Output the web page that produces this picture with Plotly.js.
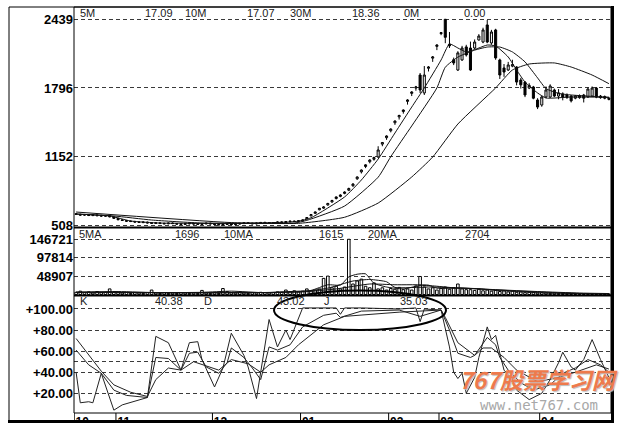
<!DOCTYPE html>
<html><head><meta charset="utf-8">
<script src="https://cdn.plot.ly/plotly-3.0.1.min.js"></script>
<style>html,body{margin:0;padding:0;background:#fff;}#chart{width:620px;height:428px;}</style>
</head><body><div id="chart"></div>
<script>
// ---------- DATA ----------
const bars = Array.from({length:128}, (_, i) => i);   // trading-day index
const monthTicks = [-0.45, 9.5, 32.5, 53.5, 74.5, 86.5, 110.5];
const monthLabels = ['10','11','12','01','02','03','04'];

const open = [618,612,604,610,601,606,602,594,598,588,
574,561,554,549,546,541,535,539,533,527,
532,528,524,531,526,522,518,523,528,523,
518,523,529,523,519,513,518,523,516,521,
526,533,529,523,530,537,534,528,533,541,
536,543,549,545,550,570,598,622,655,670,
700,728,760,780,808,838,880,945,1010,1060,
1105,1128,1150,1270,1330,1395,1470,1525,1575,1670,
1745,1795,1917,1749,1980,2075,2185,2305,2439,2205,
2060,1964,2058,2180,2170,2170,2245,2226,2386,2217,
2339,2058,1983,1964,2000,1992,1870,1851,1795,1805,
1683,1636,1711,1711,1777,1720,1740,1730,1720,1700,
1705,1730,1711,1720,1795,1720,1715,1700];
const close = [612,605,610,602,608,600,596,600,590,575,
562,555,548,545,540,536,540,532,528,532,
527,524,530,526,521,518,524,528,522,519,
524,529,523,518,514,519,523,517,521,527,
532,528,524,530,536,533,528,534,540,537,
544,548,545,552,559,582,610,634,669,681,
714,742,775,793,821,854,896,962,1027,1076,
1121,1144,1215,1285,1346,1411,1486,1538,1589,1683,
1758,1805,1777,1917,1992,2086,2198,2313,2270,2190,
2030,2124,2170,2105,1964,2226,2282,2339,2226,2320,
2077,1917,1945,2011,2015,1851,1825,1730,1820,1700,
1617,1711,1777,1814,1720,1750,1711,1705,1675,1720,
1725,1700,1786,1795,1711,1705,1700,1690];
const high = [624,618,616,615,614,612,608,606,604,594,
580,566,560,555,551,546,545,544,538,537,
537,533,535,536,531,527,529,533,533,528,
529,534,534,528,524,524,528,528,526,532,
537,538,534,535,541,542,539,539,545,546,
549,553,554,557,562,586,614,638,672,688,
720,748,780,800,828,862,904,968,1033,1082,
1128,1152,1250,1290,1352,1418,1492,1545,1595,1690,
1765,1815,1936,2001,2000,2095,2205,2320,2439,2320,
2080,2140,2190,2200,2230,2250,2300,2360,2432,2340,
2350,2070,2020,2040,2060,2000,1890,1860,1840,1815,
1700,1725,1810,1830,1790,1785,1755,1745,1730,1730,
1735,1740,1800,1810,1805,1730,1725,1712];
const low = [606,600,598,596,595,594,590,589,584,570,
556,550,543,540,535,531,530,527,522,522,
521,519,519,521,516,513,513,518,517,514,
513,518,517,512,508,510,513,512,511,516,
521,523,519,518,525,528,523,523,528,532,
531,538,540,540,546,566,594,616,650,664,
694,722,752,772,800,830,870,935,995,1045,
1090,1115,1140,1250,1310,1380,1450,1500,1555,1640,
1720,1770,1749,1730,1950,2040,2150,2290,2215,2170,
2010,1955,2050,2090,1955,2160,2240,2215,2215,2200,
2060,1880,1900,1955,1990,1820,1790,1710,1785,1690,
1598,1620,1700,1700,1710,1690,1680,1695,1660,1690,
1695,1660,1705,1715,1700,1695,1690,1680];

// price moving averages
const ma5X = [0,8,13,20,37,51,53,56,64,68,72,76,80,83,87,89,91,93,96,98,100,103,105,107,110,112,118,127];
const ma5Y = [615,597,550,531,528,540,548,580,775,934,1130,1374,1617,1796,2058,2208,2170,2133,2170,2198,2189,2086,1964,1851,1749,1702,1711,1709];
const ma10X = [0,9,18,30,52,55,64,72,75,80,86,88,91,95,98,101,104,107,110,112,115,118,127];
const ma10Y = [615,597,559,531,531,556,690,960,1152,1440,1796,1990,2085,2150,2179,2179,2133,2040,1890,1790,1745,1730,1707];
const ma30X = [0,37,53,64,72,80,85,91,100,104,108,114,118,123,127];
const ma30Y = [634,535,528,585,718,962,1149,1458,1796,1964,2020,2030,1992,1917,1836];

// volume
const volume = [6000,9000,5000,7000,4000,8000,5000,6000,15000,7000,
5000,4000,6000,3000,5000,4000,3000,5000,12000,4000,
3000,5000,3000,4000,3000,5000,4000,3000,4000,3000,
11000,4000,3000,5000,3000,16000,8000,5000,4000,6000,
4000,3000,5000,4000,6000,5000,4000,5000,7000,6000,
12000,8000,10000,7000,9000,15000,10000,12000,15000,43000,
49000,18000,22000,15000,20000,146721,28000,36000,41000,22000,
18000,31000,15000,18000,12000,16000,14000,19000,13000,15000,
12000,23000,48000,20000,15000,18000,12000,16000,20000,14000,
18000,28000,15000,13000,13000,11000,14000,10000,12000,9000,
11000,8000,10000,7000,9000,6000,7000,5000,6000,5000,
4000,5000,4000,3000,4000,3000,3000,2500,3000,2000,
2500,2000,2500,2000,1800,1500,1600,1700];
const vma5X = [0,10,20,30,37,45,52,56,60,63,65,67,69,71,74,78,82,85,90,95,100,105,110,115,120,127];
const vma5Y = [6500,8000,5000,6000,9000,5000,8500,11000,26000,25000,47000,54000,55000,30000,20000,15000,24000,23000,18000,16000,11000,8000,5000,3500,2500,1696];
const vma10X = [0,15,30,45,54,60,66,70,74,76,84,90,96,104,112,120,127];
const vma10Y = [6000,5500,5000,5500,8000,17000,36000,40000,34000,19000,20000,18000,15000,10000,6000,3000,1615];
const vma20X = [0,20,40,54,62,70,76,84,86,92,100,110,120,127];
const vma20Y = [6000,5000,5000,7000,15000,28000,26000,25000,17000,17000,13000,8000,4000,2704];

// KDJ
const kX = [0,3,6,9,12,17,19,22,25,27,29,31,34,36,37,40,42,44,46,48,51,54,59,62,63,68,77,82,87,89,91,94,95,97,98,100,101,103,106,109,113,116,119,122,125,127];
const kY = [61,47,39,23,18,16,54,53,42,58,59,45,39,49,63,54,44,33,64,61,66,83,94,96,92,98,99,93,99,80,58,54,56,68,73,66,54,42,30,23,28,39,44,52,47,40];
const dX = [0,3,6,9,13,17,19,22,25,28,31,34,37,41,44,46,50,53,59,64,77,87,88,91,95,97,99,102,105,110,115,119,124,127];
const dY = [72,56,41,28,21,17,33,44,42,50,46,42,52,48,40,47,54,66,85,93,97,99,92,68,56,63,63,54,42,31,35,40,47,43];
const jX = [0,1,3,4,6,9,11,15,17,19,22,25,27,29,30,33,35,37,40,41,43,46,48,50,51,54,58,62,63,64,68,77,81,82,83,87,89,90,91,92,93,95,96,98,99,100,101,102,104,105,108,111,113,115,116,118,119,121,123,125,127];
const jY = [40,11,12,11,39,4,9,14,16,74,68,42,68,69,52,26,44,77,56,45,15,90,64,80,71,101,101,101,95,101,101,100,101,88,100,99,64,40,34,39,20,35,54,83,71,75,58,42,33,23,14,20,33,49,59,45,42,52,71,52,35];

// axis labels
const priceTicks = [508,1152,1796,2439];
const volTicks = [48907,97814,146721];
const kdjTicks = [20,40,50,60,80,100];
const kdjTickText = ['+20.00','+40.00','','+60.00','+80.00','+100.00'];

// panel header texts
const priceHead = ['5M','17.09','10M','17.07','30M','18.36','0M','0.00'];
const volHead = ['5MA','1696','10MA','1615','20MA','2704'];
const kdjHead = ['K','40.38','D','43.02','J','35.03'];

// ---------- LAYOUT HELPERS ----------
const W=620,H=428,L=74,R=9,T=7,B=15;
const PW=W-L-R, PH=H-T-B;
const px = x => (x-L)/PW;
const py = y => (H-B-y)/PH;
const ink = '#111';
const lineStyle = {color: ink, width: 1, shape: 'spline', smoothing: 0.5};
const kdjStyle = {color: '#222', width: 1};

const traces = [
  {type:'candlestick', x:bars, open:open, high:high, low:low, close:close,
   xaxis:'x', yaxis:'y', whiskerwidth:0, hoverinfo:'skip', showlegend:false,
   increasing:{line:{color:'#000',width:1}, fillcolor:'#fff'},
   decreasing:{line:{color:'#000',width:1}, fillcolor:'#000'}},
  {type:'scatter', mode:'lines', x:ma5X, y:ma5Y, yaxis:'y', line:lineStyle, hoverinfo:'skip'},
  {type:'scatter', mode:'lines', x:ma10X, y:ma10Y, yaxis:'y', line:lineStyle, hoverinfo:'skip'},
  {type:'scatter', mode:'lines', x:ma30X, y:ma30Y, yaxis:'y', line:lineStyle, hoverinfo:'skip'},
  {type:'bar', x:bars, y:volume, yaxis:'y2', width:0.62, hoverinfo:'skip',
   marker:{color:'#fff', line:{color:'#000', width:1}}},
  {type:'scatter', mode:'lines', x:vma5X, y:vma5Y, yaxis:'y2', line:lineStyle, hoverinfo:'skip'},
  {type:'scatter', mode:'lines', x:vma10X, y:vma10Y, yaxis:'y2', line:lineStyle, hoverinfo:'skip'},
  {type:'scatter', mode:'lines', x:vma20X, y:vma20Y, yaxis:'y2', line:lineStyle, hoverinfo:'skip'},
  {type:'scatter', mode:'lines', x:kX, y:kY, yaxis:'y3', line:kdjStyle, hoverinfo:'skip'},
  {type:'scatter', mode:'lines', x:dX, y:dY, yaxis:'y3', line:kdjStyle, hoverinfo:'skip'},
  {type:'scatter', mode:'lines', x:jX, y:jY, yaxis:'y3', line:kdjStyle, hoverinfo:'skip'}
];

const tickFont = {family:'Liberation Sans, Arial, sans-serif', size:13, color:'#000', weight:'bold'};
const gridCommon = {showgrid:true, gridcolor:'#3a3a3a', gridwidth:1, griddash:'4px,3px',
  zeroline:false, showline:false, ticks:'', tickfont:tickFont, fixedrange:true, anchor:'x'};

const yMid1 = py(227.5), yMid2 = py(295.5);

const shapes = [];
// plot frame & separators
shapes.push({type:'rect', xref:'paper', yref:'paper', x0:0, x1:1, y0:0, y1:1, line:{color:'#000', width:1}, layer:'above'});
shapes.push({type:'line', xref:'paper', yref:'paper', x0:0, x1:1, y0:yMid1, y1:yMid1, line:{color:'#000', width:2}, layer:'above'});
shapes.push({type:'line', xref:'paper', yref:'paper', x0:0, x1:1, y0:yMid2, y1:yMid2, line:{color:'#000', width:2}, layer:'above'});
// outer frame
shapes.push({type:'line', xref:'paper', yref:'paper', x0:px(9), x1:px(9), y0:py(7), y1:py(422), line:{color:'#000', width:1}, layer:'above'});
shapes.push({type:'line', xref:'paper', yref:'paper', x0:px(9), x1:px(613), y0:py(7), y1:py(7), line:{color:'#000', width:1}, layer:'above'});
shapes.push({type:'rect', xref:'paper', yref:'paper', x0:px(8), x1:px(620), y0:py(428), y1:py(423), fillcolor:'#fff', line:{width:0}, layer:'above'});
shapes.push({type:'line', xref:'paper', yref:'paper', x0:px(612.5), x1:px(612.5), y0:py(6), y1:py(423), line:{color:'#000', width:3}, layer:'above'});
shapes.push({type:'line', xref:'paper', yref:'paper', x0:px(8), x1:px(614), y0:py(421.5), y1:py(421.5), line:{color:'#000', width:3}, layer:'above'});
// month tick marks
monthTicks.forEach(v => shapes.push({type:'line', xref:'x', yref:'paper', x0:v, x1:v, y0:0, y1:py(420), line:{color:'#000', width:1}, layer:'above'}));
// highlight ellipse
shapes.push({type:'circle', xref:'paper', yref:'paper', x0:px(274), x1:px(446), y0:py(330), y1:py(290.5), line:{color:'#000', width:2}, layer:'above'});

const headFont = {family:'Liberation Sans, Arial, sans-serif', size:11, color:'#222'};
const annotations = [];
function headRow(texts, xs, yPix){
  texts.forEach((t,i)=>annotations.push({text:t, xref:'paper', yref:'paper', x:px(xs[i]), y:py(yPix),
    xanchor:'left', yanchor:'middle', showarrow:false, font:headFont}));
}
headRow(priceHead, [78,143,183,245,288,350,402,462], 13);
headRow(volHead, [77,173,222,317,366,463], 234);
headRow(kdjHead, [78,153,202,275,322,398], 301);
// watermark
annotations.push({text:'767股票学习网', xref:'paper', yref:'paper', x:px(538), y:py(379), xanchor:'center', yanchor:'middle', showarrow:false,
  font:{family:'Noto Sans CJK SC, sans-serif', size:23, color:'#ee7a4c', weight:'bold', style:'italic', shadow:'1px 1px 1px #bbb'}});
annotations.push({text:'www.net767.com', xref:'paper', yref:'paper', x:px(539), y:py(405), xanchor:'center', yanchor:'middle', showarrow:false,
  font:{family:'DejaVu Sans Mono, monospace', size:14, color:'#a8a8a8'}});

const layout = {
  width:W, height:H, margin:{l:L, r:R, t:T, b:B}, paper_bgcolor:'#fff', plot_bgcolor:'#fff',
  showlegend:false, dragmode:false,
  xaxis:{domain:[0,1], range:[-0.5,127.5], anchor:'y3', tickvals:monthTicks, ticktext:monthLabels,
    ticks:'', showgrid:false, zeroline:false, showline:false, fixedrange:true,
    rangeslider:{visible:false}, ticklabelshift:8,
    tickfont:{family:'Liberation Sans, Arial, sans-serif', size:12, color:'#000', weight:'bold'}},
  yaxis: Object.assign({}, gridCommon, {domain:[yMid1,1], range:[489,2554], tickvals:priceTicks, ticktext:priceTicks.map(String)}),
  yaxis2: Object.assign({}, gridCommon, {domain:[yMid2,yMid1], range:[-2500,178000], tickvals:volTicks, ticktext:volTicks.map(String)}),
  yaxis3: Object.assign({}, gridCommon, {domain:[0,yMid2], range:[1.3,112.8], tickvals:kdjTicks, ticktext:kdjTickText}),
  shapes:shapes, annotations:annotations
};

Plotly.newPlot('chart', traces, layout, {staticPlot:true, displayModeBar:false});
</script></body></html>
